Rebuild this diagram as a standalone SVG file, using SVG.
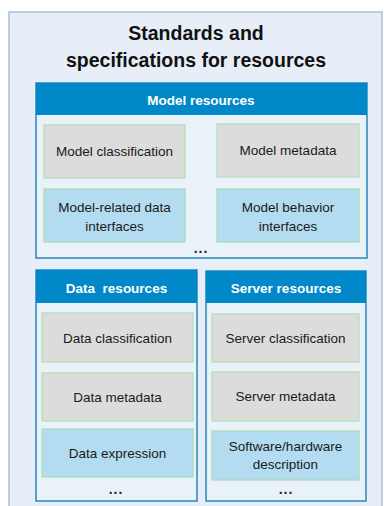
<svg xmlns="http://www.w3.org/2000/svg" width="384" height="506" viewBox="0 0 384 506">
<style>
  .outer { fill: #e7eef7; stroke: #a7c2e0; stroke-width: 1.5; }
  .panel { fill: #e9f1f9; stroke: #2a86bf; stroke-width: 1.5; }
  .hdr { fill: #0088c9; }
  .gray { fill: #dcdcdc; stroke: #b3deb0; stroke-width: 1.2; }
  .blue { fill: #b4dcf1; stroke: #a9dcb0; stroke-width: 1.2; }
  text { font-family: "Liberation Sans", Arial, sans-serif; text-anchor: middle; }
  .title { font-size: 19.5px; font-weight: bold; fill: #111; }
  .htxt { font-size: 13.5px; font-weight: bold; fill: #ffffff; white-space: pre; }
  .item { font-size: 13.5px; fill: #1a1a1a; }
  .dots { font-size: 14px; font-weight: bold; fill: #222; letter-spacing: 1px; }
</style>
<rect class="outer" x="9" y="12" width="373" height="510"/>
<g id="title">
  <text class="title" x="196" y="40">Standards and</text>
  <text class="title" x="196" y="67">specifications for resources</text>
</g>
<g id="model-resources">
  <rect class="panel" x="36" y="83" width="331" height="175"/>
  <rect class="hdr" x="36" y="83" width="331" height="32"/>
  <text class="htxt" x="201" y="105">Model resources</text>
  <text class="dots" x="201" y="253">...</text>
</g>
<g id="model-classification">
  <rect class="gray" x="44" y="125" width="141" height="53"/>
  <text class="item" x="114.5" y="156">Model classification</text>
</g>
<g id="model-metadata">
  <rect class="gray" x="217" y="124" width="142" height="53"/>
  <text class="item" x="288" y="155">Model metadata</text>
</g>
<g id="model-related-data-interfaces">
  <rect class="blue" x="44" y="189" width="141" height="53"/>
  <text class="item" x="114.5" y="212">Model-related data</text>
  <text class="item" x="114.5" y="231">interfaces</text>
</g>
<g id="model-behavior-interfaces">
  <rect class="blue" x="217" y="189" width="142" height="53"/>
  <text class="item" x="288" y="212">Model behavior</text>
  <text class="item" x="288" y="231">interfaces</text>
</g>
<g id="data-resources">
  <rect class="panel" x="36" y="270" width="161" height="231"/>
  <rect class="hdr" x="36" y="270" width="161" height="33"/>
  <text class="htxt" x="116.5" y="293">Data  resources</text>
  <text class="dots" x="116" y="494">...</text>
</g>
<g id="data-classification">
  <rect class="gray" x="42" y="313" width="151" height="49"/>
  <text class="item" x="117.5" y="343">Data classification</text>
</g>
<g id="data-metadata">
  <rect class="gray" x="42" y="373" width="151" height="48"/>
  <text class="item" x="117.5" y="402">Data metadata</text>
</g>
<g id="data-expression">
  <rect class="blue" x="42" y="429" width="151" height="48"/>
  <text class="item" x="117.5" y="458">Data expression</text>
</g>
<g id="server-resources">
  <rect class="panel" x="206" y="271" width="160" height="230"/>
  <rect class="hdr" x="206" y="271" width="160" height="32"/>
  <text class="htxt" x="286" y="293">Server resources</text>
  <text class="dots" x="286" y="494">...</text>
</g>
<g id="server-classification">
  <rect class="gray" x="212" y="314" width="147" height="48"/>
  <text class="item" x="285.5" y="343">Server classification</text>
</g>
<g id="server-metadata">
  <rect class="gray" x="212" y="372" width="147" height="49"/>
  <text class="item" x="285.5" y="401">Server metadata</text>
</g>
<g id="software-hardware-description">
  <rect class="blue" x="212" y="431" width="147" height="49"/>
  <text class="item" x="285.5" y="451">Software/hardware</text>
  <text class="item" x="285.5" y="469">description</text>
</g>
<g id="connectors"></g>
</svg>
